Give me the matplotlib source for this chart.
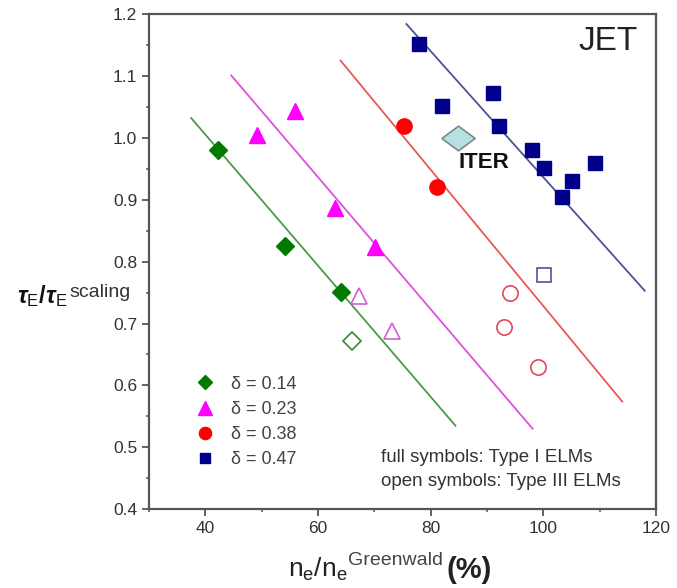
import matplotlib
matplotlib.use('Agg')
import matplotlib.pyplot as plt
from matplotlib.ticker import MultipleLocator, FormatStrFormatter

plt.rcParams['font.family'] = ['Liberation Sans', 'DejaVu Sans']
plt.rcParams['mathtext.fontset'] = 'custom'
plt.rcParams['mathtext.rm'] = 'Liberation Sans'
plt.rcParams['mathtext.it'] = 'Liberation Sans:italic'
plt.rcParams['mathtext.bf'] = 'Liberation Sans:bold'
plt.rcParams['mathtext.bfit'] = 'Liberation Sans:italic:bold'

# delta = 0.14 (green diamonds)
g_full_x = [42.2, 54.1, 64.0]
g_full_y = [0.980, 0.826, 0.751]
g_open_x = [66.0]
g_open_y = [0.672]
g_line_x = [37.5, 84.4]
g_line_y = [1.032, 0.535]

# delta = 0.23 (magenta triangles)
m_full_x = [49.1, 56.0, 63.1, 70.2]
m_full_y = [1.004, 1.044, 0.886, 0.823]
m_open_x = [67.2, 73.1]
m_open_y = [0.745, 0.688]
m_line_x = [44.6, 98.1]
m_line_y = [1.101, 0.530]

# delta = 0.38 (red circles)
r_full_x = [75.2, 81.1]
r_full_y = [1.020, 0.921]
r_open_x = [94.0, 93.0, 99.0]
r_open_y = [0.750, 0.695, 0.630]
r_line_x = [64.0, 114.0]
r_line_y = [1.125, 0.574]

# delta = 0.47 (blue squares)
b_full_x = [78.0, 82.1, 91.0, 92.1, 98.0, 100.1, 105.1, 103.3, 109.1]
b_full_y = [1.151, 1.051, 1.072, 1.020, 0.980, 0.951, 0.930, 0.905, 0.960]
b_open_x = [100.1]
b_open_y = [0.779]
b_line_x = [75.7, 118.0]
b_line_y = [1.184, 0.753]

iter_x = [84.9]
iter_y = [1.0]

legend_labels = ['δ = 0.14', 'δ = 0.23', 'δ = 0.38', 'δ = 0.47']

fig = plt.figure(figsize=(6.77, 5.88), dpi=100)
ax = fig.add_axes([0.220, 0.134, 0.749, 0.842])

series = [
    (g_full_x, g_full_y, g_open_x, g_open_y, g_line_x, g_line_y, 'D', 9, '#007a00', '#4a9a4a', '#3a8a3a'),
    (m_full_x, m_full_y, m_open_x, m_open_y, m_line_x, m_line_y, '^', 12, '#ff00ff', '#e050e0', '#d060d0'),
    (r_full_x, r_full_y, r_open_x, r_open_y, r_line_x, r_line_y, 'o', 11, '#ff0000', '#e85858', '#e04858'),
    (b_full_x, b_full_y, b_open_x, b_open_y, b_line_x, b_line_y, 's', 9.5, '#00008b', '#505098', '#5050a8'),
]

handles = []
for fx, fy, ox, oy, lx, ly, mk, ms, col, lcol, ocol in series:
    ax.plot(lx, ly, color=lcol, lw=1.3, zorder=2)
    h, = ax.plot(fx, fy, ls='none', marker=mk, ms=ms, color=col, zorder=3)
    ax.plot(ox, oy, ls='none', marker=mk, ms=ms, mfc='white', mec=ocol, mew=1.2, zorder=3)
    handles.append(h)

iter_marker = [(-1, 0), (0, 0.74), (1, 0), (0, -0.74), (-1, 0)]
ax.plot(iter_x, iter_y, ls='none', marker=iter_marker, ms=24, mfc='#b8dfe4',
        mec='#7a8a8a', mew=1.2, zorder=4)
ax.text(85.0, 0.960, 'ITER', fontsize=16, fontweight='bold',
        ha='left', va='center', color='#111111', zorder=5)

ax.text(116.8, 1.155, 'JET', fontsize=24, ha='right', va='center', color='#222222')

leg = ax.legend(handles, legend_labels, loc='upper left', bbox_to_anchor=(0.074, 0.27),
                frameon=False, fontsize=13, handletextpad=0.45, labelspacing=0.46,
                borderpad=0, borderaxespad=0, markerscale=0.8)
for t in leg.get_texts():
    t.set_color('#444444')

ax.text(71.1, 0.484, 'full symbols: Type I ELMs', fontsize=13.5, color='#333333', va='center')
ax.text(71.1, 0.445, 'open symbols: Type III ELMs', fontsize=13.5, color='#333333', va='center')

ax.set_xlim(30, 120)
ax.set_ylim(0.4, 1.2)
ax.xaxis.set_major_locator(MultipleLocator(20))
ax.xaxis.set_minor_locator(MultipleLocator(10))
ax.yaxis.set_major_locator(MultipleLocator(0.1))
ax.yaxis.set_minor_locator(MultipleLocator(0.05))
ax.yaxis.set_major_formatter(FormatStrFormatter('%.1f'))

for s in ax.spines.values():
    s.set_color('#555555')
    s.set_linewidth(1.6)
ax.tick_params(which='major', direction='out', length=5, width=1.3, color='#555555',
               labelsize=12.5, labelcolor='#333333')
ax.tick_params(which='minor', direction='out', length=2.5, width=1.1, color='#555555')

# y label: tau_E / tau_E^scaling
ylab = fig.text(0.025, 1 - 303 / 588,
                r'$\boldsymbol{\tau}_{\mathrm{E}}\mathbf{/}\boldsymbol{\tau}_{\mathrm{E}}$',
                fontsize=17, va='baseline', color='#111111')
ax.annotate('scaling', xy=(1, 1 - 297 / 588), xycoords=(ylab, 'figure fraction'),
            xytext=(1.5, 0), textcoords='offset points', fontsize=14, va='baseline',
            color='#333333', annotation_clip=False)

# x label: n_e / n_e^Greenwald (%)
xlab = fig.text(288 / 677, 1 - 577 / 588, r'$\mathrm{n_e/n_e}$', fontsize=19,
                va='baseline', color='#222222')
gw = ax.annotate('Greenwald', xy=(1, 1 - 565 / 588), xycoords=(xlab, 'figure fraction'),
                 xytext=(0.5, 0), textcoords='offset points', fontsize=14, va='baseline',
                 color='#444444', annotation_clip=False)
ax.annotate('(%)', xy=(1, 1 - 578 / 588), xycoords=(gw, 'figure fraction'),
            xytext=(2, 0), textcoords='offset points', fontsize=21, fontweight='bold',
            va='baseline', color='#222222', annotation_clip=False)

fig.savefig('out.png', dpi=100)
